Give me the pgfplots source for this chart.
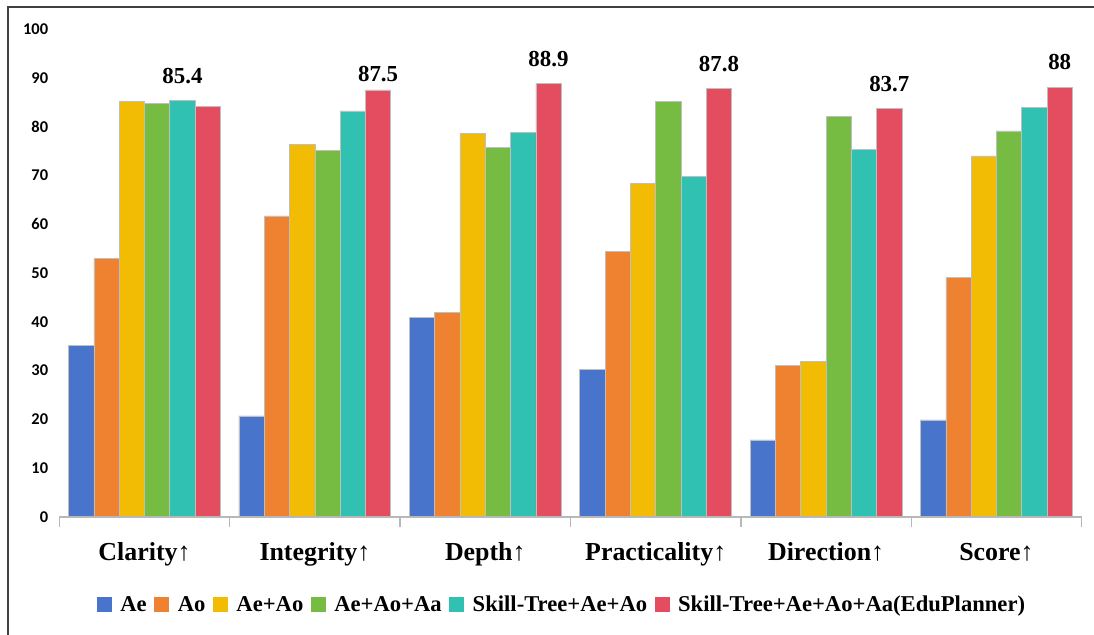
\documentclass[border=0pt]{standalone}
\usepackage{fontspec}
\setmainfont{Liberation Serif}
\newfontfamily\tickfont{Carlito}
\newfontfamily\serifbold{Liberation Serif}
\usepackage{pgfplots}
\pgfplotsset{compat=1.18}
\definecolor{cAe}{RGB}{72,117,203}
\definecolor{cAo}{RGB}{238,130,48}
\definecolor{cAeAo}{RGB}{242,188,4}
\definecolor{cAeAoAa}{RGB}{118,188,67}
\definecolor{cSk}{RGB}{48,193,179}
\definecolor{cEdu}{RGB}{227,77,95}
\definecolor{frame}{RGB}{64,64,64}
\newcommand\legtxt[1]{{\serifbold\bfseries\fontsize{22.7}{22.7}\selectfont #1}}
\begin{document}
\begin{tikzpicture}
\useasboundingbox (0,0) rectangle (1094bp,635bp);
\draw[line width=2bp, frame] (7.5bp,0) -- (7.5bp,627.5bp) -- (1094bp,627.5bp);
\begin{axis}[
  at={(59.3bp,118bp)}, anchor=south west,
  scale only axis, width=1022.4bp, height=488bp,
  xmin=0, xmax=6, ymin=0, ymax=100,
  clip=false,
  ybar=0pt, bar width=25.3bp,
  axis line style={draw=none},
  tick style={draw=black!28, line width=1.3bp},
  major tick length=0pt,
  xtick pos=left, ytick pos=left,
  ytick={0,10,...,100},
  xtick={0.5,1.5,2.5,3.5,4.5,5.5},
  xticklabels={Clarity↑,Integrity↑,Depth↑,Practicality↑,Direction↑,Score↑},
  extra x ticks={0,1,2,3,4,5,6},
  extra x tick labels={,,,,,,},
  extra x tick style={major tick length=10bp, tick align=outside},
  /pgf/number format/assume math mode=true,
  yticklabel style={font=\tickfont\bfseries\fontsize{16.5}{16.5}\selectfont, inner sep=0pt, xshift=-11bp},
  xticklabel style={font=\serifbold\bfseries\fontsize{26}{26}\selectfont, anchor=base, inner sep=0pt, yshift=-43bp},
  legend style={at={(0.4907,-0.179)}, anchor=center, draw=none, fill=none,
    nodes={inner sep=0pt},
    /tikz/every odd column/.append style={column sep=8.5bp},
    /tikz/every even column/.append style={column sep=7.5bp}},
  legend columns=-1,
  mylegend/.style={legend image code/.code={\path[##1,draw=none] (0bp,-7.25bp) rectangle (15bp,7.25bp);}},
]
\addplot[fill=cAe, draw=black!25, line width=0.6bp, mylegend] coordinates {(0.5,35.2) (1.5,20.7) (2.5,40.9) (3.5,30.3) (4.5,15.8) (5.5,19.9)};
\addplot[fill=cAo, draw=black!25, line width=0.6bp, mylegend] coordinates {(0.5,53.0) (1.5,61.7) (2.5,42.0) (3.5,54.5) (4.5,31.1) (5.5,49.1)};
\addplot[fill=cAeAo, draw=black!25, line width=0.6bp, mylegend] coordinates {(0.5,85.2) (1.5,76.4) (2.5,78.6) (3.5,68.4) (4.5,31.9) (5.5,74.0)};
\addplot[fill=cAeAoAa, draw=black!25, line width=0.6bp, mylegend] coordinates {(0.5,84.8) (1.5,75.1) (2.5,75.8) (3.5,85.1) (4.5,82.1) (5.5,79.1)};
\addplot[fill=cSk, draw=black!25, line width=0.6bp, mylegend] coordinates {(0.5,85.4) (1.5,83.2) (2.5,78.8) (3.5,69.8) (4.5,75.3) (5.5,84.0)};
\addplot[fill=cEdu, draw=black!25, line width=0.6bp, mylegend] coordinates {(0.5,84.1) (1.5,87.5) (2.5,88.9) (3.5,87.8) (4.5,83.7) (5.5,88.0)};
\legend{\legtxt{Ae},\legtxt{Ao},\legtxt{Ae+Ao},\legtxt{Ae+Ao+Aa},\legtxt{Skill-Tree+Ae+Ao},\legtxt{Skill-Tree+Ae+Ao+Aa(EduPlanner)}}
\draw[black!28, line width=1.6bp] (axis cs:0,0) -- (axis cs:6,0);
\begin{scope}[font=\serifbold\bfseries\fontsize{23}{23}\selectfont]
\node[anchor=base] at (axis cs:0.7227,88.9) {85.4};
\node[anchor=base] at (axis cs:1.871,89.2) {87.5};
\node[anchor=base] at (axis cs:2.871,92.3) {88.9};
\node[anchor=base] at (axis cs:3.871,91.25) {87.8};
\node[anchor=base] at (axis cs:4.871,87.15) {83.7};
\node[anchor=base] at (axis cs:5.871,91.6) {88};
\end{scope}
\end{axis}
\end{tikzpicture}
\end{document}
